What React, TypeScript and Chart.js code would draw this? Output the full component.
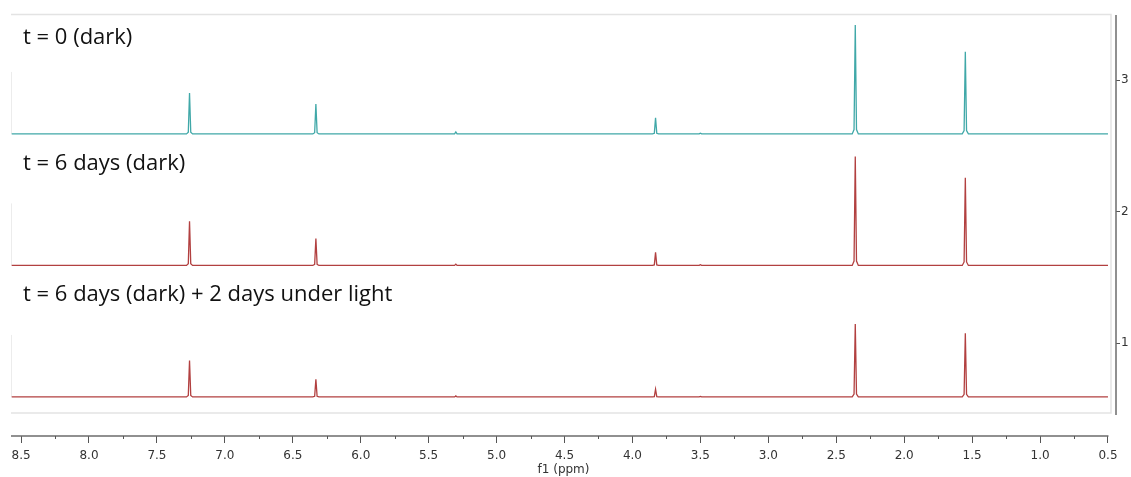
import React, { useEffect, useRef } from "react";
import { Chart, registerables } from "chart.js";

Chart.register(...registerables);

// Chemical shifts (ppm) of the observed signals
const peakShifts = [7.26, 6.33, 5.3, 3.83, 3.5, 2.36, 1.55];
// Peak heights above each trace's baseline (right-axis units)
const heightsDark0 = [0.312, 0.228, 0.015, 0.122, 0.006, 0.829, 0.624];
const heightsDark6 = [0.335, 0.205, 0.01, 0.099, 0.006, 0.829, 0.666];
const heightsLight = [0.277, 0.135, 0.008, 0.059, 0.004, 0.555, 0.484];
// Baseline (vertical offset) of each stacked trace
const traceBaselines = [2.59, 1.59, 0.59];
const traceLabels = [
  "t = 0 (dark)",
  "t = 6 days (dark)",
  "t = 6 days (dark) + 2 days under light",
];
const traceColors = ["#40a8a8", "#b24040", "#b24040"];
const xTickValues = [8.5, 8.0, 7.5, 7.0, 6.5, 6.0, 5.5, 5.0, 4.5, 4.0, 3.5, 3.0, 2.5, 2.0, 1.5, 1.0, 0.5];
const xMinorTickValues = [8.25, 7.75, 7.25, 6.75, 6.25, 5.75, 5.25, 4.75, 4.25, 3.75, 3.25, 2.75, 2.25, 1.75, 1.25, 0.75];
const yTickValues = [1, 2, 3];
const X_MIN = 0.441;
const X_MAX = 8.574;
const Y_MIN = 0.293;
const Y_MAX = 3.502;

function buildTrace(heights: number[], base: number) {
  const hw = 0.009;
  const pts: { x: number; y: number }[] = [{ x: X_MAX - 0.005, y: base }];
  const order = peakShifts.map((s, i) => i).sort((a, b) => peakShifts[b] - peakShifts[a]);
  for (const i of order) {
    const s = peakShifts[i];
    const h = heights[i];
    pts.push({ x: s + hw * 2.5, y: base });
    pts.push({ x: s + hw, y: base + h * 0.04 });
    pts.push({ x: s, y: base + h });
    pts.push({ x: s - hw, y: base + h * 0.04 });
    pts.push({ x: s - hw * 2.5, y: base });
  }
  pts.push({ x: 0.5, y: base });
  return pts;
}

const decorPlugin = {
  id: "decor",
  beforeDatasetsDraw(chart: any) {
    const { ctx, scales } = chart;
    const ys = scales.y;
    ctx.save();
    // plot frame
    ctx.strokeStyle = "#e3e3e3";
    ctx.lineWidth = 1.5;
    ctx.beginPath();
    ctx.moveTo(11, 14.5);
    ctx.lineTo(1111, 14.5);
    ctx.lineTo(1111, 413);
    ctx.lineTo(11, 413);
    ctx.stroke();
    // faint left edges of each trace
    ctx.strokeStyle = "#ececec";
    ctx.lineWidth = 1;
    for (const b of traceBaselines) {
      const yb = ys.getPixelForValue(b);
      ctx.beginPath();
      ctx.moveTo(11.5, yb);
      ctx.lineTo(11.5, yb - 62);
      ctx.stroke();
    }
    ctx.restore();
  },
  afterDraw(chart: any) {
    const { ctx, scales, chartArea } = chart;
    const xs = scales.x;
    ctx.save();
    ctx.strokeStyle = "#6b6b6b";
    ctx.lineWidth = 1.5;
    // right axis line
    ctx.beginPath();
    ctx.moveTo(chartArea.right, 15);
    ctx.lineTo(chartArea.right, 415);
    ctx.stroke();
    // bottom axis line
    const yAxis = chartArea.bottom;
    ctx.beginPath();
    ctx.moveTo(chartArea.left, yAxis);
    ctx.lineTo(xs.getPixelForValue(0.5) + 0.5, yAxis);
    ctx.stroke();
    // minor ticks
    ctx.lineWidth = 1;
    ctx.strokeStyle = "#555";
    for (const v of xMinorTickValues) {
      const px = Math.round(xs.getPixelForValue(v)) + 0.5;
      ctx.beginPath();
      ctx.moveTo(px, yAxis);
      ctx.lineTo(px, yAxis + 3);
      ctx.stroke();
    }
    // trace labels
    ctx.fillStyle = "#111";
    ctx.font = "22px 'Open Sans'";
    ctx.textBaseline = "middle";
    ctx.textAlign = "left";
    const labelY = [38, 164, 295];
    traceLabels.forEach((t, i) => ctx.fillText(t, 23, labelY[i]));
    ctx.restore();
  },
};

export default function App() {
  const ref = useRef<HTMLCanvasElement>(null);
  useEffect(() => {
    if (!ref.current) return;
    const datasets = traceBaselines.map((b, i) => ({
      label: traceLabels[i],
      data: buildTrace([heightsDark0, heightsDark6, heightsLight][i], b),
      borderColor: traceColors[i],
      borderWidth: 1.3,
      pointRadius: 0,
      fill: false,
      tension: 0,
    }));
    const chart = new Chart(ref.current, {
      type: "line",
      data: { datasets },
      plugins: [decorPlugin],
      options: {
        animation: false,
        responsive: true,
        maintainAspectRatio: false,
        layout: { padding: { left: 11, top: 14, right: 0, bottom: 0 } },
        plugins: { legend: { display: false }, tooltip: { enabled: false } },
        scales: {
          x: {
            type: "linear",
            reverse: true,
            min: X_MIN,
            max: X_MAX,
            afterBuildTicks: (s: any) => {
              s.ticks = xTickValues.map((v) => ({ value: v }));
            },
            afterFit: (s: any) => {
              s.height = 41;
            },
            grid: { drawOnChartArea: false, tickLength: 7, tickColor: "#555", tickWidth: 1 },
            border: { display: false },
            ticks: {
              autoSkip: false,
              maxRotation: 0,
              padding: 6,
              color: "#333",
              font: { family: "DejaVu Sans", size: 12 },
              callback: (v: any) => Number(v).toFixed(1),
            },
            title: {
              display: true,
              text: "f1 (ppm)",
              color: "#333",
              font: { family: "DejaVu Sans", size: 12 },
              padding: { top: 0, bottom: 0 },
            },
          },
          y: {
            type: "linear",
            position: "right",
            min: Y_MIN,
            max: Y_MAX,
            afterBuildTicks: (s: any) => {
              s.ticks = yTickValues.map((v) => ({ value: v }));
            },
            afterFit: (s: any) => {
              s.width = 15;
            },
            grid: { drawOnChartArea: false, tickLength: 4, tickColor: "#555" },
            border: { display: false },
            ticks: {
              padding: 1,
              color: "#333",
              font: { family: "DejaVu Sans", size: 12 },
            },
          },
        },
      },
    });
    return () => chart.destroy();
  }, []);
  return (
    <div style={{ position: "fixed", left: 0, top: 0, width: 1131, height: 477, background: "#fff" }}>
      <canvas ref={ref} />
    </div>
  );
}
